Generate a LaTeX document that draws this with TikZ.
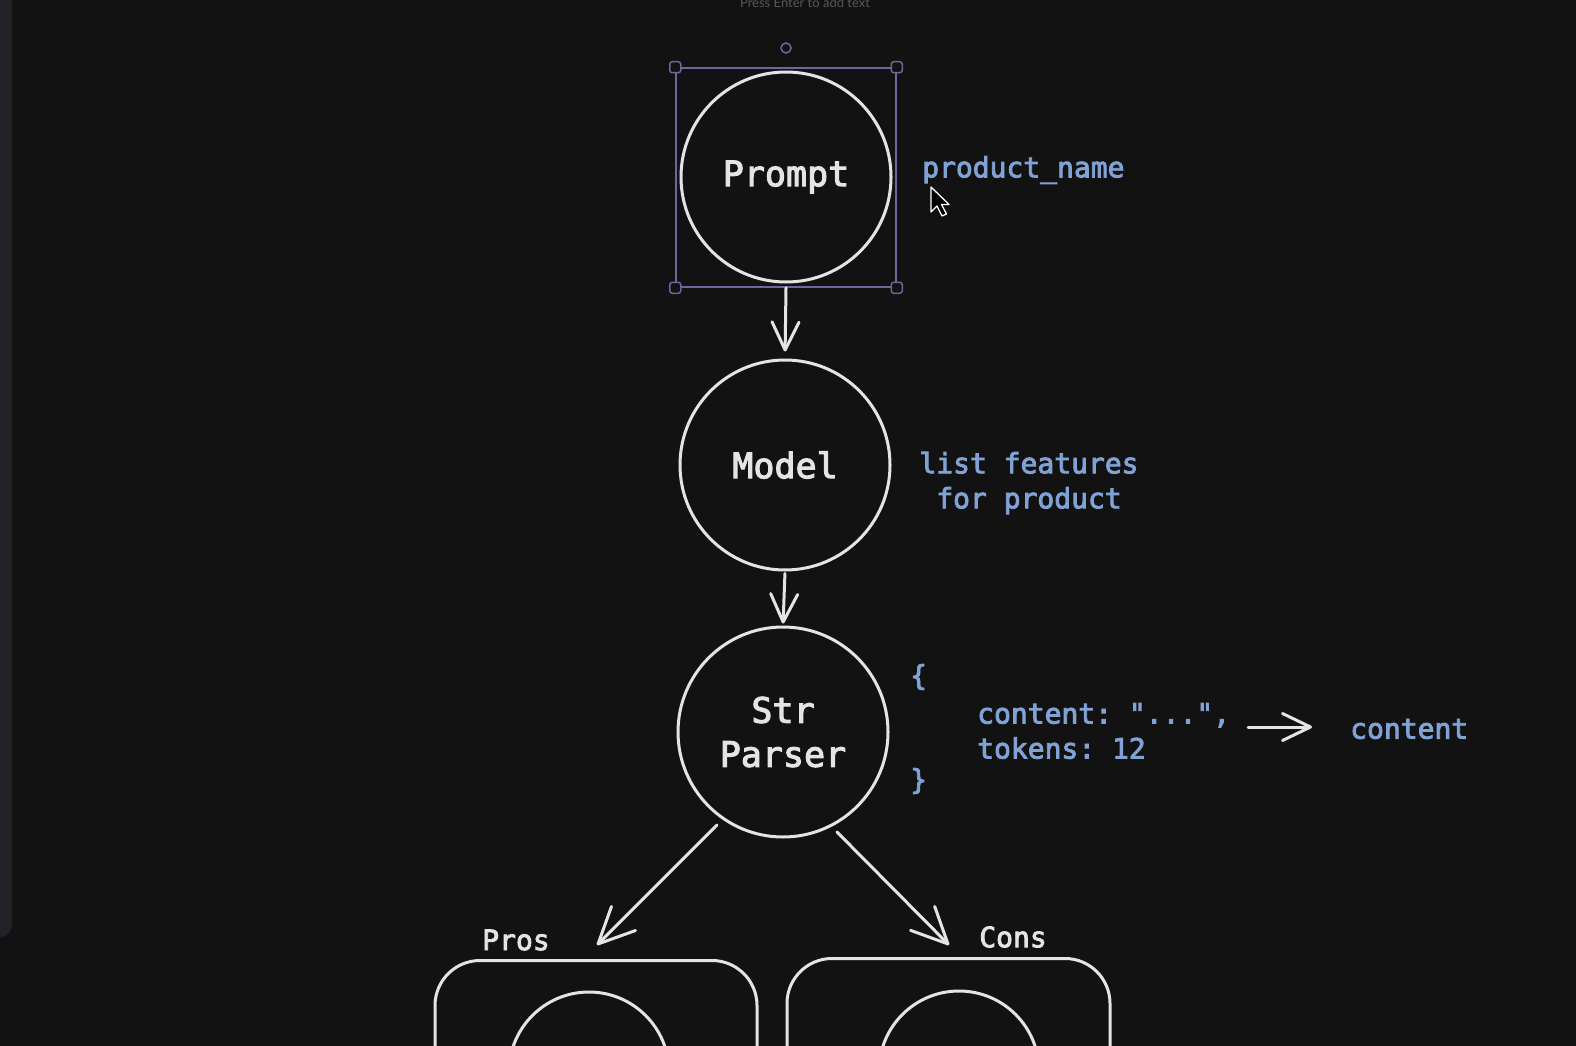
\documentclass[tikz,border=0pt]{standalone}
\usepackage{fontspec}
\setmonofont[FakeBold=3]{DejaVu Sans Mono}
\newfontfamily\uifont{Lato}
\usetikzlibrary{arrows.meta}
\definecolor{bg}{RGB}{18,18,18}
\definecolor{panel}{RGB}{34,34,40}
\definecolor{ink}{RGB}{228,228,228}
\definecolor{code}{RGB}{128,162,212}
\definecolor{sel}{RGB}{108,104,158}
\definecolor{hint}{RGB}{88,88,88}
\tikzset{
  circ/.style={circle, draw=ink, line width=3pt, minimum size=210pt, inner sep=0pt,
    text=ink, font=\ttfamily\fontsize{35}{44}\selectfont, align=center},
  arr/.style={draw=ink, line width=3pt, line cap=round,
    -{Straight Barb[length=28pt,width=27pt,line width=3pt,round]}},
  longarr/.style={draw=ink, line width=3pt, line cap=round,
    -{Straight Barb[length=36pt,width=34pt,line width=3pt,round]}},
  codetxt/.style={text=code, font=\ttfamily\fontsize{28}{35}\selectfont, inner sep=0pt},
  lbl/.style={text=ink, font=\ttfamily\fontsize{28}{35}\selectfont, inner sep=0pt},
  handle/.style={draw=sel, fill=bg, line width=1.5pt, rounded corners=2.5pt, minimum size=11pt, inner sep=0pt},
  grp/.style={draw=ink, line width=3pt, rounded corners=45pt, inner sep=0pt},
}
\begin{document}
\begin{tikzpicture}[x=1pt,y=-1pt]
\useasboundingbox (0,0) rectangle (1576,1046);
\fill[bg] (0,0) rectangle (1576,1046);
\clip (0,0) rectangle (1576,1046);
% left panel edge
\fill[panel] (-20,-20) -- (12,-20) -- (12,925) arc[start angle=0,end angle=90,radius=12] -- (-20,937) -- cycle;
% hint text
\node[text=hint, font=\uifont\fontsize{13}{15}\selectfont, inner sep=0pt] (hinttext) at (805,3) {Press Enter to add text};
% selection box
\node[draw=sel, line width=1.5pt, minimum width=220pt, minimum height=219pt, inner sep=0pt] (selbox) at (786,177.5) {};
\foreach \c in {north west, north east, south west, south east}
  \node[handle] at (selbox.\c) {};
\node[circle, draw=sel, fill=bg, line width=1.5pt, minimum size=10pt, inner sep=0pt] (rothandle) at (786,48) {};
% main nodes
\node[circ] (prompt) at (786,177) {Prompt};
\node[circ] (model) at (785,465) {Model};
\node[circ] (parser) at (783,732) {Str\\Parser};
% arrows
\draw[arr, shorten >=7pt] (selbox.south) -- (model.north);
\draw[arr, shorten <=2pt, shorten >=2pt] (model.south) -- (parser.north);
\coordinate (prostip) at (597,945);
\coordinate (constip) at (949,945);
\draw[longarr] (parser) ++(-66,93) coordinate (ps) (ps) -- (prostip);
\draw[longarr] (parser) ++(54,100) coordinate (cs) (cs) -- (constip);
% annotations
\node[codetxt, anchor=west] (pname) at (922,170) {product\_name};
\node[codetxt, align=center] (feat) at (1029,483) {list features\\for product};
\node[codetxt, anchor=west] (lbrace) at (910,677) {\{};
\node[codetxt, anchor=west, align=left] (json) at (977,731) {content: "...",\\tokens: 12};
\node[codetxt, anchor=west] (rbrace) at (910,781) {\}};
\node[codetxt, anchor=west] (content) at (1350,729) {content};
\coordinate (ca) at (1248,727);
\coordinate (cb) at (1312,727);
\draw[arr] (ca) -- (cb);
% labels
\node[lbl] (pros) at (516,940) {Pros};
\node[lbl] (cons) at (1013,937) {Cons};
% groups
\node[grp, minimum width=322pt, minimum height=300pt, anchor=north] (prosbox) at (596,959) {};
\node[grp, minimum width=323pt, minimum height=300pt, anchor=north] (consbox) at (948.5,957) {};
\node[circle, draw=ink, line width=3pt, minimum size=160pt, inner sep=0pt] (proscirc) at (589,1072) {};
\node[circle, draw=ink, line width=3pt, minimum size=160pt, inner sep=0pt] (conscirc) at (959,1071) {};
% mouse cursor
\draw[fill=black, draw=white, line width=1.3pt, line join=round] (931,187) -- (931,212) -- (937,206) -- (942,216) -- (946.5,214) -- (941.5,204.5) -- (949,204.5) -- cycle;
\end{tikzpicture}
\end{document}
